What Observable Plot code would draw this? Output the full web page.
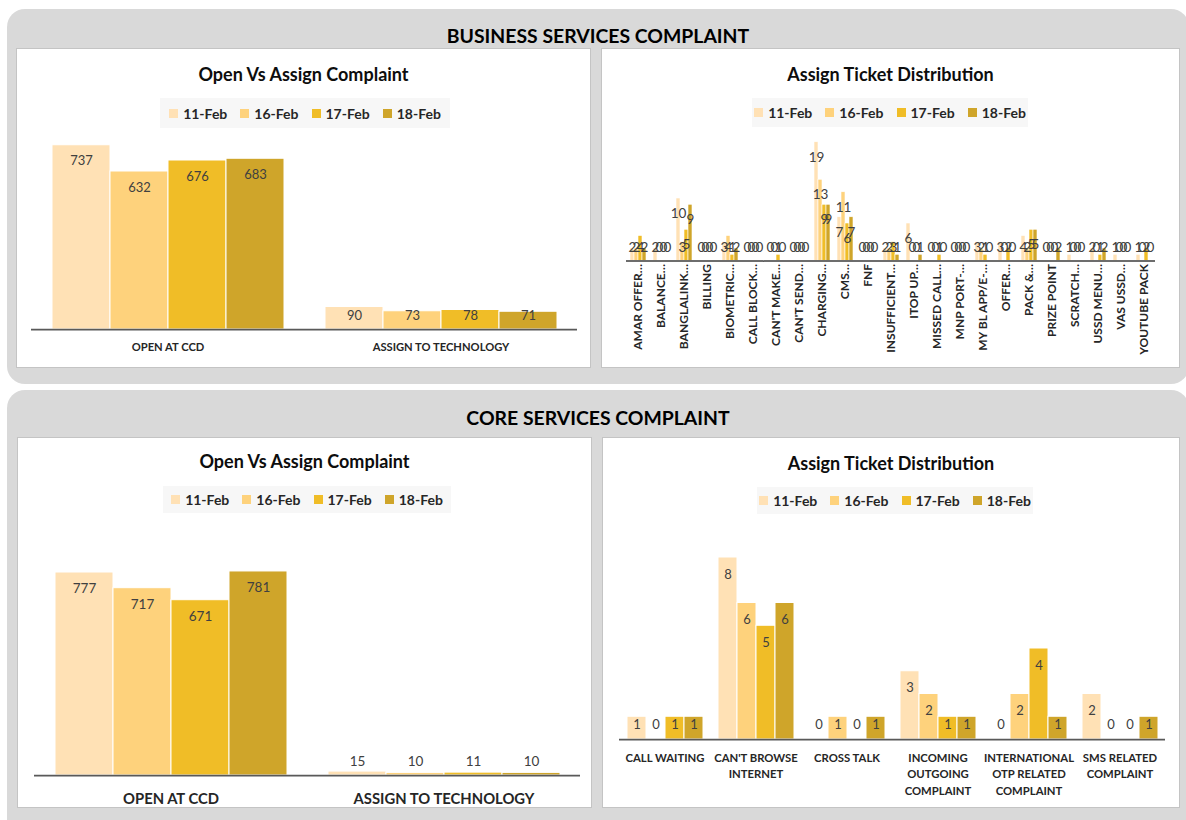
<!DOCTYPE html>
<html>
<head>
<meta charset="utf-8">
<script src="https://cdn.jsdelivr.net/npm/d3@7"></script>
<script src="https://cdn.jsdelivr.net/npm/@observablehq/plot@0.6"></script>
<style>
  html, body { margin: 0; padding: 0; }
  body { width: 1186px; height: 820px; overflow: hidden; position: relative; background: #fff; font-family: Lato, "Open Sans", sans-serif; }
  .panel { position: absolute; background: #d9d9d9; border-radius: 18px; }
  .ptitle { position: absolute; text-align: center; font-weight: 700; font-size: 19.4px; line-height: 24px; color: #000; }
  .box { position: absolute; background: #fff; border: 1px solid #c4c4c4; box-sizing: border-box; }
  .ctitle { position: absolute; text-align: center; font-weight: 700; font-size: 18px; line-height: 20px; color: #0d0d0d; }
  .legend { position: absolute; background: #f7f7f7; display: flex; align-items: center; justify-content: center; gap: 13px; font-weight: 700; font-size: 14px; color: #262626; }
  .legend .item { display: flex; align-items: center; gap: 5px; }
  .legend .sw { width: 9px; height: 9px; display: inline-block; }
  .chart { position: absolute; }
  .chart svg { background: transparent !important; max-width: none !important; }
</style>
</head>
<body>
<div class="panel" style="left:7px;top:9px;width:1182px;height:375px;"></div>
<div class="panel" style="left:7px;top:390px;width:1182px;height:450px;"></div>
<div class="ptitle" style="left:7px;width:1182px;top:24px;">BUSINESS SERVICES COMPLAINT</div>
<div class="ptitle" style="left:7px;width:1182px;top:406px;">CORE SERVICES COMPLAINT</div>

<div class="box" style="left:16px;top:48px;width:575px;height:320px;"></div>
<div class="box" style="left:601px;top:48px;width:579px;height:320px;"></div>
<div class="box" style="left:17px;top:437px;width:575px;height:371px;"></div>
<div class="box" style="left:602px;top:437px;width:578px;height:371px;"></div>

<div class="ctitle" style="left:16px;width:575px;top:64px;">Open Vs Assign Complaint</div>
<div class="ctitle" style="left:601px;width:579px;top:64px;">Assign Ticket Distribution</div>
<div class="ctitle" style="left:17px;width:575px;top:451px;">Open Vs Assign Complaint</div>
<div class="ctitle" style="left:602px;width:578px;top:453px;">Assign Ticket Distribution</div>

<div class="legend" id="lg1" style="left:160px;top:98px;width:290px;height:30px;"></div>
<div class="legend" id="lg2" style="left:752px;top:98px;width:276px;height:29px;"></div>
<div class="legend" id="lg3" style="left:163px;top:486px;width:288px;height:27px;"></div>
<div class="legend" id="lg4" style="left:757px;top:487px;width:276px;height:27px;"></div>

<div class="chart" id="c1" style="left:16px;top:120px;"></div>
<div class="chart" id="c2" style="left:601px;top:128px;"></div>
<div class="chart" id="c3" style="left:17px;top:556px;"></div>
<div class="chart" id="c4" style="left:602px;top:526px;"></div>

<script>
// ---------- DATA ----------
const dates = ["11-Feb", "16-Feb", "17-Feb", "18-Feb"];
const colors = ["#FFE1B5", "#FED27C", "#F0BD27", "#CFA52A"];

// Business services: Open vs Assign
const openAssignCats = ["OPEN AT CCD", "ASSIGN TO TECHNOLOGY"];
const bizOpenAtCcd = [737, 632, 676, 683];
const bizAssignToTech = [90, 73, 78, 71];

// Business services: Assign ticket distribution
const bizTicketCats = ["AMAR OFFER…", "BALANCE…", "BANGLALINK…", "BILLING", "BIOMETRIC…", "CALL BLOCK…",
  "CAN'T MAKE…", "CAN'T SEND…", "CHARGING…", "CMS…", "FNF", "INSUFFICIENT…", "ITOP UP…", "MISSED CALL…",
  "MNP PORT-…", "MY BL APP/E-…", "OFFER…", "PACK &…", "PRIZE POINT", "SCRATCH…", "USSD MENU…", "VAS USSD…", "YOUTUBE PACK"];
const bizTicket11Feb = [2, 2, 10, 0, 3, 0, 0, 0, 19, 7, 0, 2, 6, 0, 0, 3, 3, 4, 0, 1, 2, 1, 1];
const bizTicket16Feb = [2, 0, 3, 0, 4, 0, 0, 0, 13, 11, 0, 2, 0, 0, 0, 2, 0, 2, 0, 0, 0, 0, 0];
const bizTicket17Feb = [4, 0, 5, 0, 1, 0, 1, 0, 9, 6, 0, 3, 0, 1, 0, 1, 2, 5, 0, 0, 1, 0, 2];
const bizTicket18Feb = [2, 0, 9, 0, 2, 0, 0, 0, 9, 7, 0, 1, 1, 0, 0, 0, 0, 5, 2, 0, 2, 0, 0];

// Core services: Open vs Assign
const coreOpenAtCcd = [777, 717, 671, 781];
const coreAssignToTech = [15, 10, 11, 10];

// Core services: Assign ticket distribution
const coreTicketCats = ["CALL WAITING", "CAN'T BROWSE INTERNET", "CROSS TALK", "INCOMING OUTGOING COMPLAINT",
  "INTERNATIONAL OTP RELATED COMPLAINT", "SMS RELATED COMPLAINT"];
const coreTicketTickLabels = ["CALL WAITING", "CAN'T BROWSE\nINTERNET", "CROSS TALK", "INCOMING\nOUTGOING\nCOMPLAINT",
  "INTERNATIONAL\nOTP RELATED\nCOMPLAINT", "SMS RELATED\nCOMPLAINT"];
const coreTicket11Feb = [1, 8, 0, 3, 0, 2];
const coreTicket16Feb = [0, 6, 1, 2, 2, 0];
const coreTicket17Feb = [1, 5, 0, 1, 4, 0];
const coreTicket18Feb = [1, 6, 1, 1, 1, 1];

// ---------- HELPERS ----------
function rowsFromSeries(cats, seriesByDate) {
  const rows = [];
  cats.forEach((c, i) => dates.forEach((d, j) => rows.push({cat: c, date: d, value: seriesByDate[j][i]})));
  return rows;
}
function rowsFromCats(cats, seriesByCat) {
  const rows = [];
  cats.forEach((c, i) => dates.forEach((d, j) => rows.push({cat: c, date: d, value: seriesByCat[i][j]})));
  return rows;
}

function legend(id) {
  const el = document.getElementById(id);
  dates.forEach((d, i) => {
    const it = document.createElement("div");
    it.className = "item";
    it.innerHTML = `<span class="sw" style="background:${colors[i]}"></span><span>${d}</span>`;
    el.appendChild(it);
  });
}

function groupedChart(o) {
  const plotH = o.height - o.mt - o.mb;
  const ppu = plotH / o.yMax;
  const thr = (o.labTop + o.labBase) / ppu;
  const p = o.groupPad;
  const q = 2 * p / (1 - p);
  const tickMap = new Map(o.cats.map((c, i) => [c, o.tickLabels ? o.tickLabels[i] : c]));
  const axisOpts = {
    anchor: "bottom", tickSize: 0, tickPadding: o.tickPadding, label: null,
    tickFormat: d => tickMap.get(d), fontSize: o.tickFont, fontWeight: "bold", fill: "#262626"
  };
  if (o.tickRotate) axisOpts.tickRotate = o.tickRotate;
  if (o.lineHeight) axisOpts.lineHeight = o.lineHeight;
  return Plot.plot({
    width: o.width, height: o.height,
    marginTop: o.mt, marginBottom: o.mb, marginLeft: o.ml, marginRight: o.mr,
    style: {fontFamily: "Lato, 'Open Sans', sans-serif", background: "transparent", overflow: "visible"},
    fx: {domain: o.cats, paddingInner: 0, paddingOuter: 0, label: null},
    x: {domain: dates, paddingInner: 0, paddingOuter: q, axis: null},
    y: {domain: [0, o.yMax], axis: null},
    color: {domain: dates, range: colors},
    marks: [
      Plot.barY(o.rows.filter(d => d.value > 0), {fx: "cat", x: "date", y: "value", fill: "date", stroke: "white", strokeWidth: o.barStroke}),
      Plot.ruleY([0], {stroke: "#595959", strokeWidth: 1.75}),
      Plot.text(o.rows.filter(d => d.value >= thr), {fx: "cat", x: "date", y: "value", text: d => String(d.value), dy: o.labTop, fontSize: o.labFont, fill: "#404040"}),
      Plot.text(o.rows.filter(d => d.value < thr), {fx: "cat", x: "date", y: () => 0, text: d => String(d.value), dy: -o.labBase, fontSize: o.labFont, fill: "#404040"}),
      Plot.axisFx(axisOpts)
    ]
  });
}

// ---------- CHARTS ----------
legend("lg1"); legend("lg2"); legend("lg3"); legend("lg4");

document.getElementById("c1").appendChild(groupedChart({
  cats: openAssignCats,
  rows: rowsFromCats(openAssignCats, [bizOpenAtCcd, bizAssignToTech]),
  width: 575, height: 240, mt: 9, mb: 31, ml: 14, mr: 14, yMax: 800,
  groupPad: 0.141, labTop: 16, labBase: 14, labFont: 13, tickFont: 11.2, tickPadding: 14, barStroke: 1
}));

document.getElementById("c2").appendChild(groupedChart({
  cats: bizTicketCats,
  rows: rowsFromSeries(bizTicketCats, [bizTicket11Feb, bizTicket16Feb, bizTicket17Feb, bizTicket18Feb]),
  width: 579, height: 240, mt: 7.5, mb: 107.5, ml: 16, mr: 17, yMax: 20,
  groupPad: 0.16, labTop: 15, labBase: 13, labFont: 13.5, tickFont: 12, tickPadding: 3, tickRotate: -90, barStroke: 0.6
}));

document.getElementById("c3").appendChild(groupedChart({
  cats: openAssignCats,
  rows: rowsFromCats(openAssignCats, [coreOpenAtCcd, coreAssignToTech]),
  width: 575, height: 252, mt: 10, mb: 33, ml: 16, mr: 12, yMax: 800,
  groupPad: 0.144, labTop: 16, labBase: 14, labFont: 13.5, tickFont: 14.8, tickPadding: 18, barStroke: 1
}));

document.getElementById("c4").appendChild(groupedChart({
  cats: coreTicketCats, tickLabels: coreTicketTickLabels,
  rows: rowsFromSeries(coreTicketCats, [coreTicket11Feb, coreTicket16Feb, coreTicket17Feb, coreTicket18Feb]),
  width: 578, height: 282, mt: 8.25, mb: 69, ml: 15, mr: 14, yMax: 9,
  groupPad: 0.148, labTop: 17, labBase: 15, labFont: 13, tickFont: 11.3, tickPadding: 10, lineHeight: 1.5, barStroke: 1
}));
</script>
</body>
</html>
